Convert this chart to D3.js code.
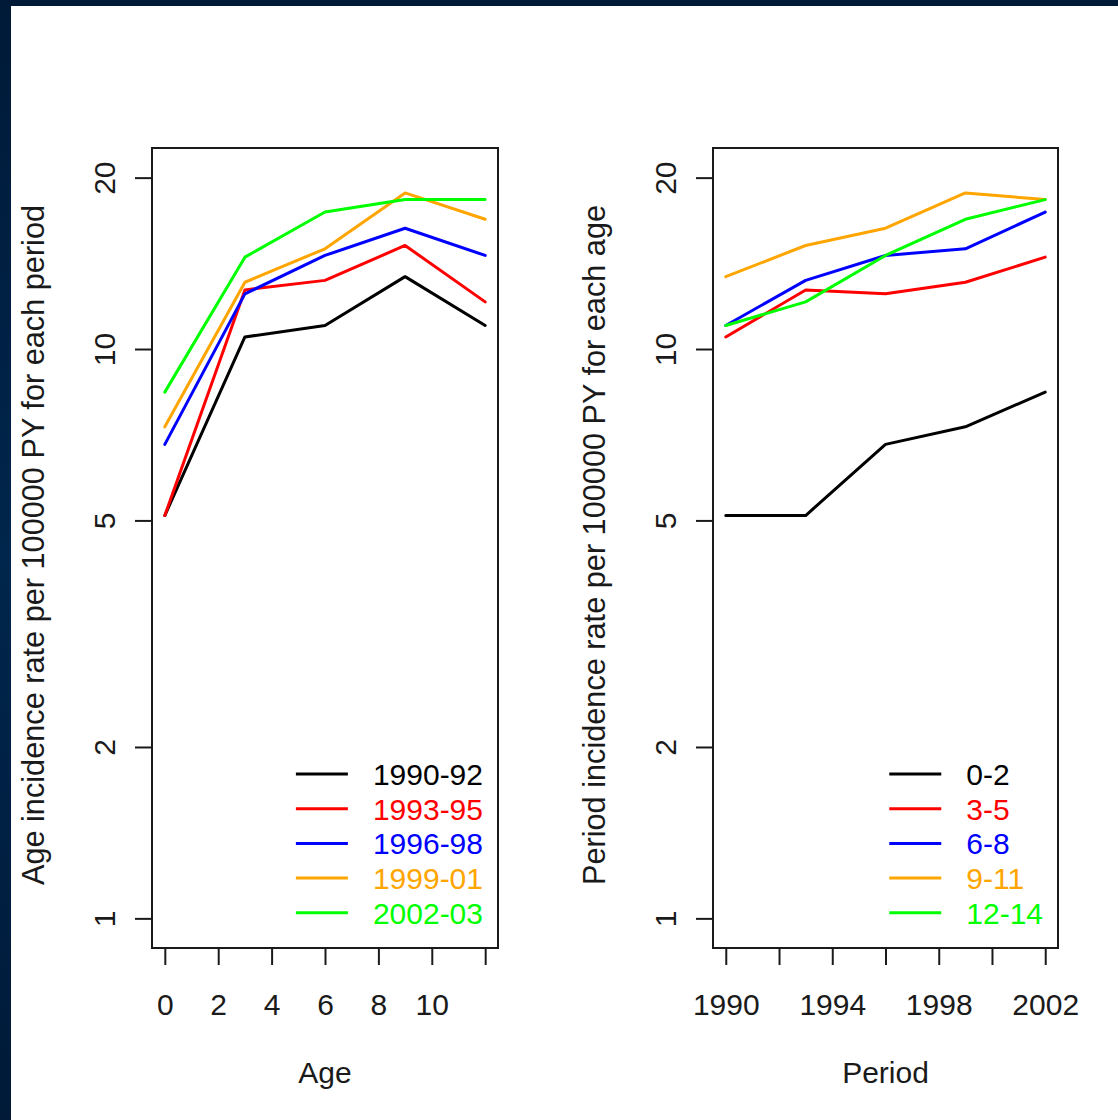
<!DOCTYPE html>
<html>
<head>
<meta charset="utf-8">
<script src="https://cdn.jsdelivr.net/npm/d3@7"></script>
<style>
  html, body { margin: 0; padding: 0; background: #fff; }
  svg { display: block; }
  text { font-family: "Liberation Sans", Arial, sans-serif; }
</style>
</head>
<body>
<svg id="chart" width="1118" height="1120"></svg>
<script>
// Incidence rate per 100000 person-years, by age group (columns) and period (rows)
const ages = [0, 3, 6, 9, 12];
const periods = [1990, 1993, 1996, 1999, 2002];
const periodLabels = ["1990-92", "1993-95", "1996-98", "1999-01", "2002-03"];
const ageLabels = ["0-2", "3-5", "6-8", "9-11", "12-14"];

const rates1990 = [5.1, 10.5, 11.0, 13.4, 11.0];
const rates1993 = [5.1, 12.7, 13.2, 15.2, 12.1];
const rates1996 = [6.8, 12.5, 14.6, 16.3, 14.6];
const rates1999 = [7.3, 13.1, 15.0, 18.8, 16.9];
const rates2002 = [8.4, 14.5, 17.4, 18.3, 18.3];
const ratesByPeriod = [rates1990, rates1993, rates1996, rates1999, rates2002];

const seriesColors = ["#000000", "#ff0000", "#0000ff", "#ffa500", "#00ff00"];

const yTicks = [1, 2, 5, 10, 20];
const yLimits = [1, 20];
const ageTicks = [0, 2, 4, 6, 8, 10, 12];
const ageTickLabels = ["0", "2", "4", "6", "8", "10", ""];
const periodTicks = [1990, 1992, 1994, 1996, 1998, 2000, 2002];
const periodTickLabels = ["1990", "", "1994", "", "1998", "", "2002"];

const svg = d3.select("#chart");
const W = 1118, H = 1120;
const FONT = 30;
const TITLE_FONT = 30.7;

// page frame: dark band on top and left
const defs = svg.append("defs");
const grad = defs.append("linearGradient").attr("id", "frame").attr("x1", 0).attr("y1", 0).attr("x2", 0).attr("y2", 1);
grad.append("stop").attr("offset", "0%").attr("stop-color", "#001a38");
grad.append("stop").attr("offset", "50%").attr("stop-color", "#00264d");
grad.append("stop").attr("offset", "100%").attr("stop-color", "#001a38");
svg.append("rect").attr("width", W).attr("height", H).attr("fill", "url(#frame)");
svg.append("rect").attr("x", 11).attr("y", 6).attr("width", W - 11).attr("height", H - 6).attr("fill", "#fff");

// R-style axis range: 4% padding on each side
function padded(lo, hi) { const p = (hi - lo) * 0.04; return [lo - p, hi + p]; }

const plotTop = 148, plotBottom = 948;
const logLim = padded(Math.log10(yLimits[0]), Math.log10(yLimits[1]));

function panel(opts) {
  const { left, right, xDomain, xTicks, xTickLabels, xTitle, yTitle, series, legendLabels, xValues } = opts;
  const g = svg.append("g");
  const x = d3.scaleLinear().domain(padded(xDomain[0], xDomain[1])).range([left, right]);
  const y = d3.scaleLog().domain([Math.pow(10, logLim[0]), Math.pow(10, logLim[1])]).range([plotBottom, plotTop]);

  // lines
  const line = d3.line().x((d, i) => x(xValues[i])).y(d => y(d));
  g.append("g").selectAll("path").data(series).join("path")
    .attr("d", d => line(d))
    .attr("fill", "none")
    .attr("stroke", (d, i) => seriesColors[i])
    .attr("stroke-width", 3)
    .attr("stroke-linejoin", "round")
    .attr("stroke-linecap", "round");

  // plot box
  g.append("rect").attr("x", left).attr("y", plotTop)
    .attr("width", right - left).attr("height", plotBottom - plotTop)
    .attr("fill", "none").attr("stroke", "#1a1a1a").attr("stroke-width", 2);

  // x axis
  const xAxis = d3.axisBottom(x).tickValues(xTicks).tickSize(17).tickSizeOuter(0)
    .tickFormat((d, i) => xTickLabels[i]);
  const gx = g.append("g").attr("transform", `translate(0,${plotBottom})`).call(xAxis);
  gx.select(".domain").remove();
  gx.selectAll(".tick line").attr("stroke", "#1a1a1a").attr("stroke-width", 2);
  gx.selectAll(".tick text").attr("y", 67).attr("dy", 0)
    .attr("font-size", FONT).attr("fill", "#1a1a1a").attr("font-family", null);

  // y axis (log)
  const yAxis = d3.axisLeft(y).tickValues(yTicks).tickSize(17).tickSizeOuter(0).tickFormat(d3.format("d"));
  const gy = g.append("g").attr("transform", `translate(${left},0)`).call(yAxis);
  gy.select(".domain").remove();
  gy.selectAll(".tick line").attr("stroke", "#1a1a1a").attr("stroke-width", 2);
  gy.selectAll(".tick text")
    .attr("x", null).attr("dy", 0)
    .attr("transform", "translate(-37,0) rotate(-90)")
    .attr("text-anchor", "middle")
    .attr("font-size", FONT).attr("fill", "#1a1a1a").attr("font-family", null);

  // axis titles
  g.append("text").attr("x", (left + right) / 2).attr("y", 1083)
    .attr("text-anchor", "middle").attr("font-size", FONT).attr("fill", "#1a1a1a").text(xTitle);
  g.append("text")
    .attr("transform", `translate(${left - 108},${(plotTop + plotBottom) / 2 - 3}) rotate(-90)`)
    .attr("text-anchor", "middle").attr("font-size", TITLE_FONT).attr("fill", "#1a1a1a").text(yTitle);

  // legend, bottom right
  const lg = g.append("g");
  const texts = lg.selectAll("text").data(legendLabels).join("text")
    .attr("font-size", FONT)
    .attr("fill", (d, i) => seriesColors[i])
    .text(d => d);
  const maxW = d3.max(texts.nodes(), n => n.getComputedTextLength());
  const textX = right - 15 - maxW;
  const rowY = i => 774 + i * 34.7;
  texts.attr("x", textX).attr("y", (d, i) => rowY(i) + 11);
  lg.selectAll("line").data(legendLabels).join("line")
    .attr("x1", textX - 77).attr("x2", textX - 25)
    .attr("y1", (d, i) => rowY(i)).attr("y2", (d, i) => rowY(i))
    .attr("stroke", (d, i) => seriesColors[i]).attr("stroke-width", 3);
}

// Left: rate by age, one line per period
panel({
  left: 152, right: 498,
  xDomain: [ages[0], ages[ages.length - 1]],
  xValues: ages,
  xTicks: ageTicks, xTickLabels: ageTickLabels,
  xTitle: "Age",
  yTitle: "Age incidence rate per 100000 PY for each period",
  series: ratesByPeriod,
  legendLabels: periodLabels
});

// Right: rate by period, one line per age group
panel({
  left: 713, right: 1058,
  xDomain: [periods[0], periods[periods.length - 1]],
  xValues: periods,
  xTicks: periodTicks, xTickLabels: periodTickLabels,
  xTitle: "Period",
  yTitle: "Period incidence rate per 100000 PY for each age",
  series: ages.map((a, j) => ratesByPeriod.map(r => r[j])),
  legendLabels: ageLabels
});
</script>
</body>
</html>
